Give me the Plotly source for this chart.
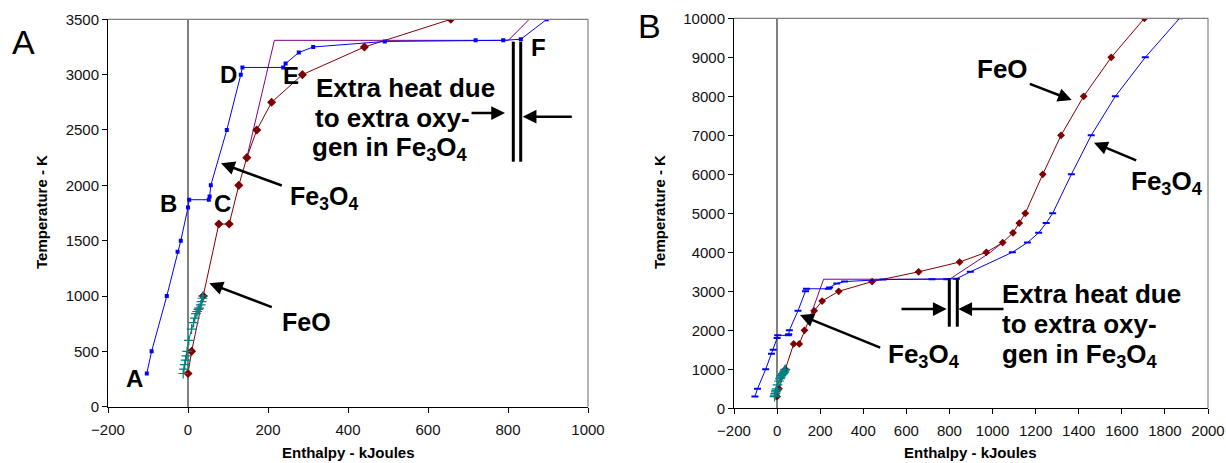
import plotly.graph_objects as go

W, H = 1226, 463

# ---------------- data ----------------
fe3o4_H = [-103, -91, -53, -26, -18, 0, 3, 52, 54, 57, 97, 132, 136, 238, 244, 277, 313,
           492, 719, 788, 832, 897, 1092, 1162, 1214, 1249, 1279, 1366, 1458, 1570, 1709, 1868]
fe3o4_T = [300, 500, 1000, 1400, 1500, 1800, 1870, 1870, 1900, 2000, 2500, 3000, 3065, 3065, 3100, 3200, 3250,
           3300, 3310, 3310, 3320, 3500, 4000, 4250, 4500, 4750, 5000, 6000, 7000, 8000, 9000, 10000]

feo_H = [0, 9, 38, 77, 103, 127, 147, 172, 209, 286, 441, 657, 847, 971, 1047, 1095, 1124, 1152,
         1233, 1318, 1423, 1551, 1705]
feo_T = [300, 500, 1000, 1650, 1650, 2000, 2250, 2500, 2750, 3000, 3250, 3500, 3750, 4000, 4250, 4500, 4750, 5000,
         6000, 7000, 8000, 9000, 10000]

purple_H = [147, 216, 801, 852, 990, 1047]
purple_T = [2250, 3310, 3310, 3500, 4000, 4250]

exp_H = [-12, -10, -8, -6, -4, -2, 2, 9, 14, 17, 20, 23, 26, 28, 32, 34, 36, 38]
exp_T = [300, 340, 380, 420, 460, 500, 600, 700, 760, 800, 840, 860, 880, 890, 920, 950, 980, 1000]

left_xticks = [-200, 0, 200, 400, 600, 800, 1000]
left_yticks = [0, 500, 1000, 1500, 2000, 2500, 3000, 3500]
right_xticks = [-200, 0, 200, 400, 600, 800, 1000, 1200, 1400, 1600, 1800, 2000]
right_yticks = [0, 1000, 2000, 3000, 4000, 5000, 6000, 7000, 8000, 9000, 10000]

FONT = "Liberation Sans, Arial, sans-serif"
BLUE = "#0000FF"
RED = "#800000"
PURPLE = "#800080"
TEAL = "#008080"


def px(x):
    return x / W


def py(y):
    return 1 - y / H


fig = go.Figure()

for xa, ya, right in (("x", "y", False), ("x2", "y2", True)):
    fig.add_trace(go.Scatter(x=purple_H, y=purple_T, mode="lines", xaxis=xa, yaxis=ya,
                             line=dict(color=PURPLE, width=1), showlegend=False))
    fig.add_trace(go.Scatter(x=feo_H, y=feo_T, mode="lines+markers", xaxis=xa, yaxis=ya,
                             line=dict(color=RED, width=1),
                             marker=dict(symbol="diamond", size=7 if not right else 6, color=RED),
                             showlegend=False))
    if right:
        bm = dict(symbol="line-ew", size=5, color=BLUE, line=dict(color=BLUE, width=2))
    else:
        bm = dict(symbol="square", size=4, color=BLUE)
    fig.add_trace(go.Scatter(x=fe3o4_H, y=fe3o4_T, mode="lines+markers", xaxis=xa, yaxis=ya,
                             line=dict(color=BLUE, width=1), marker=bm, showlegend=False))
    fig.add_trace(go.Scatter(x=exp_H, y=exp_T, mode="lines+markers", xaxis=xa, yaxis=ya,
                             line=dict(color=TEAL, width=1),
                             marker=dict(symbol="cross-thin", size=7, line=dict(color=TEAL, width=1.2)),
                             showlegend=False))

axis_common = dict(showline=True, linecolor="black", linewidth=1, ticks="outside", ticklen=5,
                   tickcolor="black", showgrid=False, tickfont=dict(family=FONT, size=15, color="#111"),
                   mirror=False, automargin=False, tickformat="d")

fig.update_layout(
    width=W, height=H, margin=dict(l=0, r=0, t=0, b=0),
    paper_bgcolor="white", plot_bgcolor="white",
    xaxis=dict(domain=[px(108), px(588)], range=[-200, 1000], tickvals=left_xticks, anchor="y",
               zeroline=True, zerolinecolor="#808080", zerolinewidth=1.5, ticklabelstandoff=4, **axis_common),
    yaxis=dict(domain=[py(406.7), py(19.3)], range=[0, 3500], tickvals=left_yticks, anchor="x",
               zeroline=False, **axis_common),
    xaxis2=dict(domain=[px(734), px(1208)], range=[-200, 2000], tickvals=right_xticks, anchor="y2",
                zeroline=True, zerolinecolor="#808080", zerolinewidth=1.5, ticklabelstandoff=4, **axis_common),
    yaxis2=dict(domain=[py(408.3), py(18.3)], range=[0, 10000], tickvals=right_yticks, anchor="x2",
                zeroline=False, **axis_common),
)

shapes = []
# gray top/right frame lines
for xr, yr in (("x domain", "y domain"), ("x2 domain", "y2 domain")):
    shapes.append(dict(type="line", xref=xr, yref=yr, x0=0, x1=1, y0=1, y1=1,
                       line=dict(color="#808080", width=1.2)))
    shapes.append(dict(type="line", xref=xr, yref=yr, x0=1, x1=1, y0=0, y1=1,
                       line=dict(color="#808080", width=1.2)))
# double vertical bars
for x0, ya, yb in ((513.3, 41.7, 161.7), (520.7, 41.7, 161.7), (949.3, 278.3, 326.7), (957.3, 278.3, 326.7)):
    shapes.append(dict(type="line", xref="paper", yref="paper", x0=px(x0), x1=px(x0), y0=py(ya), y1=py(yb),
                       line=dict(color="black", width=3)))
fig.update_layout(shapes=shapes)

ann = []


def text(x, y, s, size, bold=True, xanchor="center"):
    ann.append(dict(x=px(x), y=py(y), xref="paper", yref="paper", text=("<b>%s</b>" % s) if bold else s,
                    showarrow=False, xanchor=xanchor, yanchor="middle",
                    font=dict(family=FONT, size=size, color="black")))


def arrow(hx, hy, tx, ty):
    ann.append(dict(x=px(hx), y=py(hy), xref="paper", yref="paper", text="", showarrow=True,
                    ax=tx - hx, ay=ty - hy, axref="pixel", ayref="pixel",
                    arrowhead=2, arrowsize=1.1, arrowwidth=2.5, arrowcolor="black", standoff=0))


F34 = "Fe<sub>3</sub>O<sub>4</sub>"

# panel letters
text(24, 42, "A", 34, bold=False)
text(649, 26, "B", 34, bold=False)

# left panel point labels
text(134, 378, "A", 24)
text(168, 203, "B", 24)
text(222, 203, "C", 24)
text(228, 74, "D", 24)
text(291, 76, "E", 24)
text(538, 47, "F", 24)

# left labels
text(324, 198, F34, 25)
text(307, 322, "FeO", 25)
arrow(221, 163.3, 283.3, 186)
arrow(209.3, 283.3, 273.3, 307.7)
text(314, 88, "Extra heat due", 26, xanchor="left")
text(313, 118, "to extra oxy-", 26, xanchor="left")
text(310, 148, "gen in " + F34, 26, xanchor="left")
arrow(505, 113, 470, 113)
arrow(522.7, 116.7, 573.3, 116.7)

# right labels
text(1002, 69, "FeO", 26)
arrow(1071.7, 100, 1028.3, 83.3)
text(1167, 182, F34, 26)
arrow(1094, 142.7, 1137.7, 161)
text(924, 355, F34, 26)
arrow(800, 315, 881.7, 348.3)
text(1000, 294, "Extra heat due", 26, xanchor="left")
text(1000, 324, "to extra oxy-", 26, xanchor="left")
text(1000, 355, "gen in " + F34, 26, xanchor="left")
arrow(946.7, 309, 900, 309)
arrow(958.3, 309, 1005, 309)

# axis titles
for cx in (348, 970):
    ann.append(dict(x=px(cx), y=py(452), xref="paper", yref="paper", text="<b>Enthalpy - kJoules</b>",
                    showarrow=False, xanchor="center", yanchor="middle",
                    font=dict(family=FONT, size=15, color="black")))
for cx in (41, 659):
    ann.append(dict(x=px(cx), y=py(212), xref="paper", yref="paper", text="<b>Temperature - K</b>",
                    showarrow=False, xanchor="center", yanchor="middle", textangle=-90,
                    font=dict(family=FONT, size=15, color="black")))

fig.update_layout(annotations=ann)
fig.write_html("out.html")
